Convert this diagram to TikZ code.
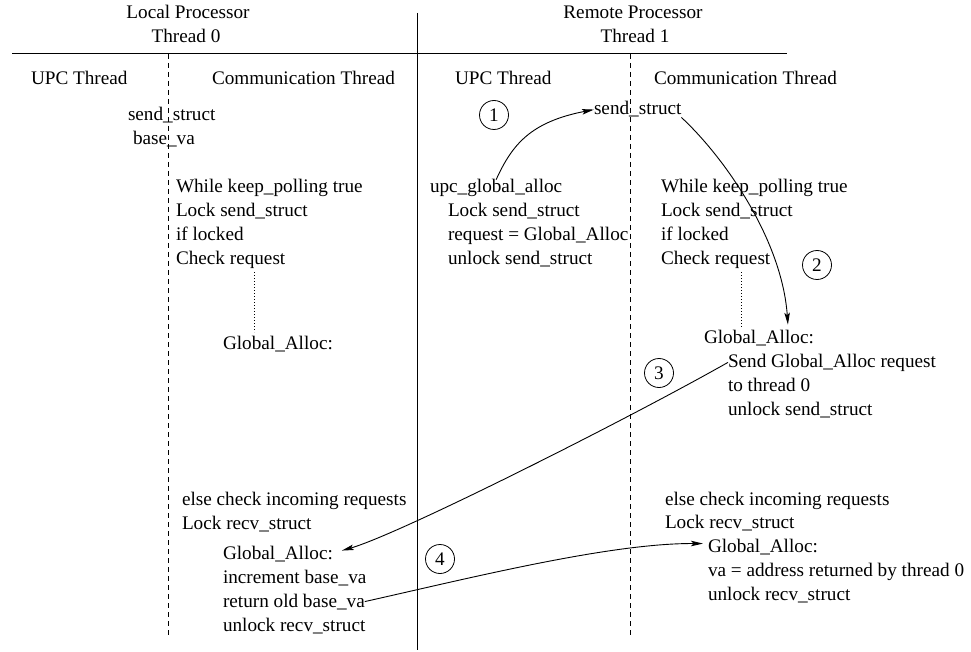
\documentclass[tikz,border=0pt]{standalone}
\usepackage{fontspec}
\setmainfont{Liberation Serif}
\usetikzlibrary{arrows.meta,calc}
\begin{document}
\begin{tikzpicture}[x=1pt,y=-1pt,
  txt/.style={inner sep=0pt,outer sep=0pt,anchor=base west,font=\fontsize{19.2pt}{24pt}\selectfont},
  hdr/.style={txt,anchor=base},
  frame/.style={line width=1pt},
  lane/.style={line width=0.8pt,dash pattern=on 5pt off 4pt},
  dotline/.style={line width=0.8pt,dash pattern=on 1pt off 2pt},
  step num/.style={circle,draw,line width=0.8pt,minimum size=29pt,inner sep=0pt,font=\fontsize{19.2pt}{24pt}\selectfont},
  flow/.style={line width=0.9pt,-{Stealth[length=12pt,width=5.5pt,inset=2.5pt]}}]
\useasboundingbox (0,0) rectangle (971,652);

% frame: header rule, processor divider, thread lanes
\draw[frame] (12,54) -- (787,54);
\draw[frame] (417.5,13) -- (417.5,650);
\draw[lane] (168.5,54) -- (168.5,635);
\draw[lane] (630,54) -- (630,635);

% headers
\node[hdr] (lp) at (188,19) {Local Processor};
\node[hdr] (t0) at (186,43) {Thread 0};
\node[hdr] (rp) at (633,19) {Remote Processor};
\node[hdr] (t1) at (635,43) {Thread 1};
\node[txt] (upc0) at (31,85) {UPC Thread};
\node[txt] (com0) at (212,85) {Communication Thread};
\node[txt] (upc1) at (455,85) {UPC Thread};
\node[txt] (com1) at (654,85) {Communication Thread};

% thread 0: shared data
\node[txt] (ss0) at (128,121) {send\_struct};
\node[txt] (bva) at (133,145) {base\_va};

% thread 0: communication thread
\node[txt] (kp0) at (176,193) {While keep\_polling true};
\node[txt] (ls0) at (176,217) {Lock send\_struct};
\node[txt] (il0) at (176,241) {if locked};
\node[txt] (cr0) at (176,265) {Check request};
\node[txt] (ga0) at (223,349) {Global\_Alloc:};
\draw[dotline] (254,272) -- (254,332);

\node[txt] (ec0) at (182,505) {else check incoming requests};
\node[txt] (lr0) at (182,529) {Lock recv\_struct};
\node[txt] (lga) at (223,559) {Global\_Alloc:};
\node[txt] (inc) at (223,583) {increment base\_va};
\node[txt] (ret) at (223,607) {return old base\_va};
\node[txt] (ur0) at (223,631) {unlock recv\_struct};

% thread 1: UPC thread
\node[txt] (uga) at (430,193) {upc\_global\_alloc};
\node[txt] (ls1) at (448,217) {Lock send\_struct};
\node[txt] (rq1) at (448,241) {request = Global\_Alloc};
\node[txt] (us1) at (448,265) {unlock send\_struct};

% thread 1: communication thread
\node[txt] (ss1) at (594,115) {send\_struct};
\node[txt] (kp1) at (661,193) {While keep\_polling true};
\node[txt] (ls2) at (661,217) {Lock send\_struct};
\node[txt] (il1) at (661,241) {if locked};
\node[txt] (cr1) at (661,265) {Check request};
\draw[dotline] (741,272) -- (741,327);
\node[txt] (ga1) at (704,343) {Global\_Alloc:};
\node[txt] (sga) at (728,367) {Send Global\_Alloc request};
\node[txt] (tt0) at (728,391) {to thread 0};
\node[txt] (us2) at (728,415) {unlock send\_struct};

\node[txt] (ec1) at (665,505) {else check incoming requests};
\node[txt] (lr1) at (665,528) {Lock recv\_struct};
\node[txt] (ga2) at (708,552) {Global\_Alloc:};
\node[txt] (va1) at (708,576) {va = address returned by thread 0};
\node[txt] (ur1) at (708,600) {unlock recv\_struct};

% step markers
\node[step num] (n1) at (494,115) {1};
\node[step num] (n2) at (817,265) {2};
\node[step num] (n3) at (659,373) {3};
\node[step num] (n4) at (440,559) {4};

% message flow
\draw[flow] (uga.north) .. controls (512,145) and (530,122) .. (ss1.west);
\draw[flow] (ss1.south east) .. controls (725,158) and (782,240) .. ([xshift=29pt,yshift=5pt]ga1.north);
\draw[flow] (sga.west) .. controls (628,419) and (400,534) .. ([xshift=9pt,yshift=3pt]lga.east);
\draw[flow] (ret.east) .. controls (470,578) and (610,543) .. ([xshift=-5pt,yshift=3pt]ga2.west);
\end{tikzpicture}
\end{document}
